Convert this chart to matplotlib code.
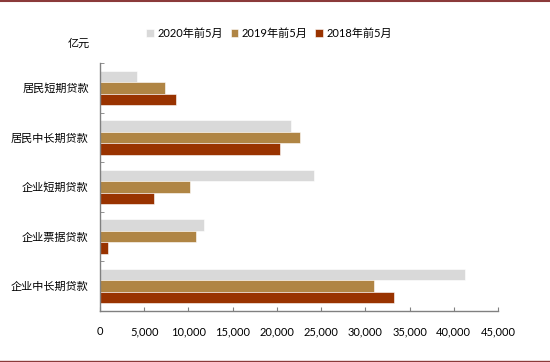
import numpy as np
import matplotlib
matplotlib.use('Agg')
import matplotlib.pyplot as plt
from matplotlib.lines import Line2D
from matplotlib.ticker import FuncFormatter

plt.rcParams['font.family'] = ['Lato', 'Noto Sans CJK SC', 'DejaVu Sans']

categories = ['居民短期贷款', '居民中长期贷款', '企业短期贷款', '企业票据贷款', '企业中长期贷款']
series_names = ['2020年前5月', '2019年前5月', '2018年前5月']
v2020 = [4150, 21600, 24150, 11750, 41250]
v2019 = [7300, 22650, 10200, 10800, 31000]
v2018 = [8550, 20350, 6100, 870, 33200]
colors = ['#D9D9D9', '#B08544', '#993300']

fig = plt.figure(figsize=(5.5, 3.62), dpi=100)
ax = fig.add_axes([0.1818, 0.1409, 0.7236, 0.685])

y = np.arange(len(categories))
h = 0.232
for i, (vals, name, c) in enumerate(zip([v2020, v2019, v2018], series_names, colors)):
    ax.barh(y + (i - 1) * h, vals, height=h, color=c, edgecolor='white',
            linewidth=0.4, label=name)

ax.set_ylim(len(categories) - 0.5, -0.5)
ax.set_xlim(0, 45000)
ax.set_xticks(np.arange(0, 45001, 5000))
ax.xaxis.set_major_formatter(FuncFormatter(lambda v, p: f'{int(v):,}'))
ax.set_yticks(y)
ax.set_yticklabels(categories, fontsize=8, family=['Noto Sans CJK SC'])
ax.set_yticks(np.arange(-0.5, len(categories), 1), minor=True)
ax.tick_params(axis='y', which='major', length=0, pad=8)
ax.tick_params(axis='y', which='minor', length=3, direction='in', color='#808080')
ax.tick_params(axis='x', length=3, direction='in', color='#808080', labelsize=8, pad=11)

for s in ['top', 'right']:
    ax.spines[s].set_visible(False)
for s in ['left', 'bottom']:
    ax.spines[s].set_color('#808080')
    ax.spines[s].set_linewidth(1.0)

ax.legend(loc='center', bbox_to_anchor=(0.425, 1.12), ncol=3, frameon=False,
          fontsize=8, handlelength=0.7, handleheight=0.7, handletextpad=0.3,
          columnspacing=0.7)

fig.text(0.163, 0.878, '亿元', fontsize=8, ha='right', va='center',
         family=['Noto Sans CJK SC'])

fig.add_artist(Line2D([0, 1], [0.996, 0.996], color='#8B3A3A', linewidth=1.5))
fig.add_artist(Line2D([0, 1], [0.003, 0.003], color='#8B3A3A', linewidth=1.0))

fig.savefig('out.png', dpi=100)
